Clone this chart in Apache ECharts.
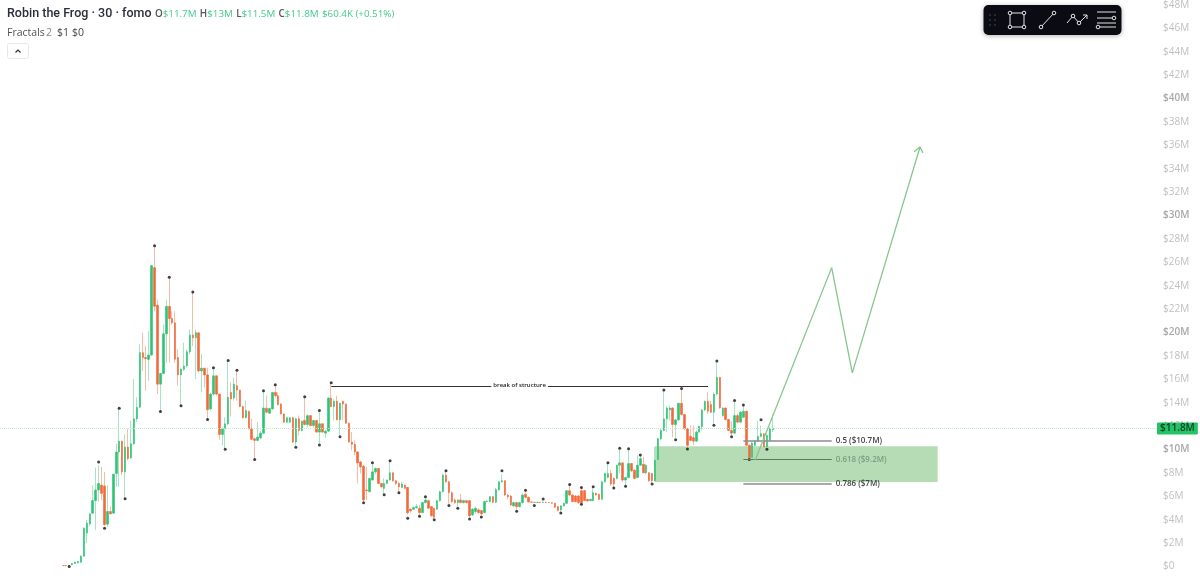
<!DOCTYPE html>
<html>
<head>
<meta charset="utf-8">
<title>Robin the Frog</title>
<style>
  html, body { margin: 0; padding: 0; background: #fff; overflow: hidden; }
  #main { width: 1200px; height: 582px; }
</style>
<script src="https://cdn.jsdelivr.net/npm/echarts@6/dist/echarts.min.js"></script>
</head>
<body>
<div id="main"></div>
<script>
// 行情数据，单位 $M，从图上读出来的
const slotCount = 393
const firstBar = 21
const opens = [
  0.08,0.08,0.06,0.14,0.25,0.31,0.37,0.88,2.86,3.65,
  4.56,5.63,6.54,6.96,6.88,3.62,4.7,4.56,7.95,9.79,
  10.72,8.09,10.21,9.28,10.5,12.62,13.61,18.28,17.86,17.71,
  18.08,25.55,22.33,15.59,16.5,19.89,22.24,21.19,20.83,17.86,
  16.38,16.86,17.15,18.36,19.78,19.55,19.98,16.72,16.95,16.38,
  13.47,14.74,16.3,14.74,11.29,11.77,12.2,14.88,14.4,15.45,
  15.08,13.67,12.71,13.27,11.77,10.92,10.78,11.0,11.4,13.53,
  13.1,13.47,14.88,14.6,13.89,13.04,12.34,12.34,12.71,10.64,
  12.62,11.63,12.48,12.14,12.9,12.05,12.48,11.49,12.2,11.4,
  11.57,14.4,13.67,14.12,12.54,14.12,13.89,12.25,10.64,10.44,
  9.79,8.94,8.57,6.54,6.4,7.39,8.09,8.38,7.1,6.68,
  7.1,7.39,8.01,7.33,7.1,6.76,6.96,6.76,4.9,4.9,
  5.04,4.98,4.61,5.46,5.63,5.12,4.98,4.9,5.63,6.4,
  7.81,7.24,6.31,5.69,5.46,5.69,5.46,5.63,5.63,4.41,
  4.7,4.84,4.78,4.61,5.55,5.55,5.97,5.49,6.54,7.24,
  7.33,6.11,6.03,5.18,5.46,5.12,5.46,6.17,5.91,5.52,
  5.49,5.47,5.49,5.47,5.5,5.47,5.45,5.4,5.12,4.84,
  5.18,5.4,6.48,6.11,6.03,6.03,6.48,6.48,5.74,5.63,
  5.63,6.25,6.17,5.74,7.24,7.61,7.95,7.53,7.53,8.66,
  8.86,7.39,7.61,8.8,8.23,7.61,8.66,8.74,8.01,8.01,
  7.95,7.33,9.14,10.92,11.63,12.62,13.38,13.55,12.14,12.54,
  13.95,12.99,11.77,11.12,11.01,10.72,11.49,11.97,13.38,14.12,
  13.84,13.19,14.74,16.16,12.9,13.55,12.56,11.63,11.4,12.9,
  12.34,12.76,13.27,10.36,9.31,10.36,10.72,11.12,11.35,10.22,
  10.78,11.7
]
const closes = [
  0.08,0.06,0.1,0.25,0.37,0.42,0.88,3.28,3.71,4.5,
  5.63,6.54,7.1,6.25,3.57,4.7,4.5,7.89,9.79,10.72,
  8.09,10.21,9.22,10.5,12.62,13.61,18.28,17.86,17.77,18.08,
  25.72,22.24,15.59,16.5,19.89,22.24,21.19,20.83,17.71,16.38,
  16.86,17.15,18.36,19.78,19.55,19.98,16.72,16.95,16.38,13.41,
  14.74,16.3,14.74,11.29,11.77,12.2,14.46,14.32,15.59,15.08,
  13.67,12.71,13.33,11.77,10.87,10.78,11.06,11.4,13.55,13.19,
  13.5,14.88,14.6,13.84,13.04,12.34,12.71,12.71,10.64,12.62,
  11.63,12.42,12.14,12.9,12.05,12.48,11.49,12.2,11.49,11.57,
  14.4,13.67,14.12,12.54,13.95,13.89,12.25,10.64,10.44,9.79,
  8.86,8.52,5.69,6.48,7.53,8.09,8.38,7.1,6.82,7.1,
  7.39,8.01,7.33,7.1,6.82,7.05,6.68,4.6,4.75,5.04,
  5.12,4.61,5.46,5.69,4.98,4.33,4.22,5.63,6.4,7.81,
  7.24,6.31,5.55,5.46,5.69,5.46,5.63,5.46,4.33,4.9,
  4.98,4.61,4.5,5.55,5.6,5.97,5.49,6.59,7.24,7.33,
  6.11,5.97,5.26,5.46,5.12,5.46,6.11,5.91,5.52,5.49,
  5.47,5.49,5.47,5.5,5.47,5.45,5.41,5.07,4.78,5.18,
  5.4,6.48,6.11,5.55,5.55,5.46,5.46,5.63,5.6,5.74,
  6.31,6.11,5.74,7.24,7.95,7.95,7.05,7.05,8.66,8.86,
  7.39,7.61,8.8,8.18,7.53,8.66,9.22,8.01,8.66,7.33,
  7.33,9.08,10.92,11.63,12.62,13.55,13.55,12.14,12.54,13.95,
  12.99,11.77,10.36,10.78,10.72,11.49,11.97,13.38,14.12,13.27,
  13.19,14.74,16.16,13.55,13.55,12.56,11.63,11.4,12.9,12.34,
  13.19,13.27,10.36,9.31,10.55,10.72,11.12,11.35,10.22,11.2,
  11.77,11.8
]
const lows = [
  0.05,0.03,0.02,0.12,0.22,0.28,0.3,0.85,2.01,3.42,
  4.5,3.14,5.55,5.69,3.5,3.42,4.45,4.5,6.82,6.82,
  7.81,5.8,9.08,9.2,10.36,12.34,13.55,16.72,15.03,15.87,
  18.0,21.82,14.74,13.24,16.44,17.43,17.43,20.68,17.43,15.45,
  13.75,16.72,17.0,18.14,18.85,16.02,16.58,14.88,15.31,12.56,
  13.33,14.6,14.6,10.84,10.36,10.02,12.05,12.82,14.18,14.18,
  13.61,12.62,12.68,11.69,10.84,9.14,10.72,10.84,11.35,13.1,
  13.05,13.42,14.46,13.75,12.99,12.25,12.25,12.25,10.55,10.36,
  11.21,11.57,12.05,11.86,11.97,11.86,11.45,10.5,11.45,11.01,
  11.5,13.61,12.48,12.48,11.21,12.48,12.2,10.6,9.93,9.51,
  7.1,7.95,5.55,5.69,6.31,7.35,7.89,7.05,6.68,6.2,
  7.05,7.35,7.24,6.96,6.31,6.7,6.6,4.41,4.61,4.84,
  4.9,4.41,4.56,5.4,4.9,4.27,4.1,4.84,5.55,6.31,
  7.16,5.35,5.4,5.35,5.12,5.4,5.4,5.4,4.22,4.33,
  4.5,4.5,4.41,4.56,5.5,5.5,5.4,5.4,6.5,7.16,
  6.03,5.74,5.18,5.12,4.9,5.07,5.4,5.83,5.46,5.46,
  5.44,5.44,5.44,5.44,5.44,5.42,5.38,5.01,4.73,4.7,
  5.12,5.35,6.03,5.49,5.49,5.35,5.4,5.58,5.55,5.58,
  5.57,6.05,5.69,5.69,7.16,7.53,6.88,6.68,7.44,7.95,
  7.24,6.82,7.53,8.09,7.44,7.53,8.6,7.95,7.89,7.24,
  7.16,7.28,9.03,10.78,11.55,11.49,12.48,11.06,11.01,12.42,
  12.9,11.63,10.16,10.72,10.36,10.64,11.4,11.63,13.27,13.04,
  13.1,12.2,14.6,13.47,12.82,12.48,11.55,11.21,11.35,12.25,
  12.25,12.7,10.27,9.2,9.22,10.22,10.64,11.05,10.16,10.07,
  10.72,11.5
]
const highs = [
  0.1,0.1,0.12,0.27,0.4,0.45,0.95,3.35,3.99,4.56,
  6.96,8.46,8.66,8.52,8.09,6.96,5.12,7.95,10.5,13.53,
  10.75,11.29,11.77,12.48,16.02,14.46,18.99,19.98,18.85,20.12,
  25.78,27.33,22.81,16.55,20.68,22.81,24.73,21.82,21.82,18.56,
  17.0,19.13,18.56,20.26,23.46,20.26,20.02,18.19,17.0,17.0,
  14.88,17.0,16.35,14.8,11.91,12.76,17.52,15.73,16.16,16.78,
  15.12,13.75,14.18,13.3,12.62,11.0,12.34,11.57,15.03,14.6,
  13.55,14.92,15.53,14.88,13.95,13.1,12.82,12.76,12.82,12.71,
  12.9,12.48,14.46,12.99,12.95,12.55,12.54,13.27,12.25,11.69,
  14.45,15.65,14.32,14.6,14.0,14.18,13.95,12.3,11.49,10.78,
  9.85,9.03,8.66,8.52,7.58,8.8,8.46,8.42,7.15,7.53,
  7.44,9.03,8.05,7.39,7.24,7.24,6.99,6.82,4.98,5.12,
  5.35,5.26,5.55,5.91,5.69,5.17,5.03,5.69,6.48,7.95,
  8.18,7.33,6.4,5.83,5.74,6.2,5.7,5.69,5.69,4.98,
  5.12,4.98,4.84,5.63,5.65,6.03,6.03,6.73,7.3,7.89,
  7.38,6.2,6.11,5.55,5.55,5.52,6.25,6.54,5.97,5.55,
  5.52,5.52,5.52,5.55,5.53,5.5,5.47,5.46,5.18,5.26,
  5.45,6.54,7.02,6.17,6.1,6.11,6.68,6.54,5.8,5.8,
  6.68,6.3,6.22,7.33,8.0,8.86,8.29,7.61,8.7,9.99,
  8.9,7.66,9.99,8.85,8.3,9.51,9.51,9.37,8.74,8.09,
  8.01,10.22,11.01,11.77,15.03,13.67,13.75,13.61,12.62,14.0,
  15.17,13.04,11.86,12.05,12.05,11.63,12.05,13.47,14.18,14.88,
  14.18,14.88,17.43,16.21,13.61,13.6,12.62,12.42,14.18,13.04,
  13.27,13.75,13.33,10.44,10.64,10.84,12.48,12.05,11.4,11.35,
  11.91,13
]

// Fractals 上下点
const fractalHighBars = [33,40,52,57,65,72,77,80,89,93,103,108,112,126,132,144,151,170,178,184,193,197,201,206,210,213,217,225,231,243,249,252,258]
const fractalHighVals = [8.94,13.53,27.42,24.73,23.46,17,17.6,16.78,15.03,15.53,14.52,13.33,15.7,8.86,9.05,5.97,8.18,8.18,6.51,5.77,7.02,6.76,6.82,8.86,10.1,10.07,9.54,15.08,15.22,17.57,14.18,13.81,12.54]
const fractalLowBars = [23,35,42,54,61,70,76,86,100,108,115,123,130,135,138,142,147,152,155,159,163,175,181,190,197,208,212,221,229,233,242,248,254,260]
const fractalLowVals = [0,3.28,5.8,13.24,13.75,12.56,10.02,9.14,10.19,10.38,11.09,5.46,6.14,6.31,4.13,4.3,3.99,5.21,4.98,4.05,4.24,4.73,5.21,4.58,5.32,6.71,6.85,7.05,10.84,10.05,12.08,11.09,9.14,10.02]

// 手绘的标注
const lastPrice = 11.8
const zoneBars = [222, 318]
const zoneRange = [7.22, 10.27]
const structureBars = [112, 240]
const structureLevel = 15.45
const fibBars = [252, 282]
const fibPrices = [10.78, 9.17, 7.05]
const fibLabels = ['0.5 ($10.7M)', '0.618 ($9.2M)', '0.786 ($7M)']
const pathBars = [256, 282, 289, 312]
const pathVals = [9.08, 25.55, 16.55, 35.86]
const arrowBars = [310, 312, 313]
const arrowVals = [35.45, 35.86, 35.36]

const yTickLabels = ['$0','$2M','$4M','$6M','$8M','$10M','$12M','$14M','$16M','$18M','$20M','$22M','$24M','$26M','$28M','$30M','$32M','$34M','$36M','$38M','$40M','$42M','$44M','$46M','$48M']
const boldTicks = ['$10M','$20M','$30M','$40M']

const GREEN = '#2cc574'
const RED = '#f2693a'
const PALE_GREEN = '#a6e4c4'
const PALE_RED = '#f9bca6'
const font = '"Open Sans", sans-serif'

const pad = Array(firstBar).fill('-')
const wickData = pad.concat(opens.map((o, i) => [o, closes[i], lows[i], highs[i]]))
const bodyData = pad.concat(opens.map((o, i) => {
  const c = closes[i]
  return [o, c, Math.min(o, c), Math.max(o, c)]
}))
const categories = Array.from({length: slotCount}, (_, i) => String(i))

const iconStyle = {stroke: '#e4e4e4', lineWidth: 1, fill: null}
const knobStyle = {stroke: '#e4e4e4', lineWidth: 1, fill: '#0b0b14'}
const poly = (points) => ({type: 'polyline', z: 101, shape: {points}, style: iconStyle})
const knob = (cx, cy) => ({type: 'circle', z: 102, shape: {cx, cy, r: 1.8}, style: knobStyle})
const grip = []
;[990, 995].forEach(x => [15, 20, 25].forEach(y => {
  grip.push({type: 'circle', z: 101, shape: {cx: x, cy: y, r: 0.7}, style: {fill: '#555a70'}})
}))

const headerText = (x, y, text, fontSize, color, extra) => ({
  type: 'text', z: 100, x, y,
  style: Object.assign({text, font: fontSize + 'px ' + font, fill: color, textVerticalAlign: 'middle'}, extra)
})

const chart = echarts.init(document.getElementById('main'))
chart.setOption({
  animation: false,
  grid: {left: 0, right: 43, top: 0, bottom: 15.5},
  xAxis: {
    type: 'category',
    data: categories,
    show: false
  },
  yAxis: {
    type: 'value',
    position: 'right',
    min: 0,
    max: 48,
    interval: 2,
    axisLine: {show: false},
    axisTick: {show: false},
    splitLine: {show: false},
    axisLabel: {
      margin: 6,
      fontFamily: font,
      fontSize: 10,
      color: '#c0c0c0',
      formatter: (v) => {
        const t = yTickLabels[v / 2]
        return boldTicks.includes(t) ? '{b|' + t + '}' : t
      },
      rich: {b: {color: '#a8a8a8', fontSize: 10, fontWeight: 600, fontFamily: font}}
    }
  },
  series: [
    {
      name: 'zone',
      type: 'line',
      data: [],
      z: 1,
      markArea: {
        silent: true,
        itemStyle: {color: '#b6dcb6'},
        data: [[{xAxis: zoneBars[0], yAxis: zoneRange[1]}, {xAxis: zoneBars[1], yAxis: zoneRange[0]}]]
      },
      markLine: {
        silent: true,
        symbol: 'none',
        label: {
          position: 'end',
          distance: 0,
          formatter: '$' + lastPrice + 'M',
          fontFamily: font,
          fontSize: 10,
          fontWeight: 600,
          color: '#14402a',
          backgroundColor: '#22c464',
          padding: [1, 3, 1, 3],
          borderRadius: 1
        },
        data: [{yAxis: lastPrice, lineStyle: {color: '#bdeed4', type: 'dotted', width: 1}}]
      }
    },
    {
      name: 'wicks',
      type: 'candlestick',
      data: wickData,
      barWidth: 1,
      z: 2,
      itemStyle: {color: PALE_GREEN, color0: PALE_RED, borderColor: PALE_GREEN, borderColor0: PALE_RED, borderWidth: 1}
    },
    {
      name: 'Robin the Frog',
      type: 'candlestick',
      data: bodyData,
      barWidth: 2,
      z: 3,
      itemStyle: {color: GREEN, color0: RED, borderColor: GREEN, borderColor0: RED, borderWidth: 0.6}
    },
    {
      name: 'Fractals up',
      type: 'scatter',
      data: fractalHighBars.map((b, i) => [b, fractalHighVals[i]]),
      symbolSize: 3,
      z: 4,
      itemStyle: {color: '#111'}
    },
    {
      name: 'Fractals down',
      type: 'scatter',
      data: fractalLowBars.map((b, i) => [b, fractalLowVals[i]]),
      symbolSize: 3,
      z: 4,
      clip: false,
      itemStyle: {color: '#111'}
    },
    {
      name: 'path',
      type: 'line',
      data: pathBars.map((b, i) => [b, pathVals[i]]),
      showSymbol: false,
      z: 5,
      lineStyle: {color: '#86c78d', width: 1.3},
      markLine: {
        silent: true,
        symbol: 'none',
        data: [
          [{
            coord: [structureBars[0], structureLevel],
            lineStyle: {color: '#333', width: 1, type: 'solid'},
            label: {
              position: 'insideMiddle',
              formatter: 'break of structure',
              fontFamily: font,
              fontSize: 6,
              fontWeight: 600,
              color: '#222',
              backgroundColor: '#fff',
              padding: [1, 2]
            }
          }, {coord: [structureBars[1], structureLevel]}]
        ].concat(fibPrices.map((p, i) => [{
          coord: [fibBars[0], p],
          lineStyle: i === 1 ? {color: '#5d7a5f', width: 1, type: 'solid'} : {color: '#8f8a90', width: 1.6, type: 'solid'},
          label: {
            position: 'end',
            distance: 4,
            formatter: fibLabels[i],
            fontFamily: font,
            fontSize: 8,
            fontWeight: 600,
            color: i === 1 ? '#7d9c80' : '#444'
          }
        }, {coord: [fibBars[1], p]}]))
      }
    },
    {
      name: 'arrow',
      type: 'line',
      data: arrowBars.map((b, i) => [b, arrowVals[i]]),
      showSymbol: false,
      z: 5,
      lineStyle: {color: '#86c78d', width: 1.3}
    }
  ],
  graphic: {
    elements: [
      headerText(7, 14, 'Robin the Frog · 30 · fomo', 12, '#2a2e39', {font: '500 12.5px Roboto, sans-serif'}),
      {
        type: 'text', z: 100, x: 155, y: 14,
        style: {
          text: '{k|O}{v|$11.7M} {k|H}{v|$13M} {k|L}{v|$11.5M} {k|C}{v|$11.8M} {v|$60.4K (+0.51%)}',
          textVerticalAlign: 'middle',
          rich: {
            k: {font: '600 9.8px ' + font, fill: '#555', color: '#555'},
            v: {font: '9.8px ' + font, fill: '#45c98b', color: '#45c98b'}
          }
        }
      },
      headerText(7, 33, 'Fractals', 10.5, '#555'),
      headerText(46, 33, '2', 10.5, '#888'),
      headerText(57, 33, '$1', 10.5, '#444'),
      headerText(72, 33, '$0', 10.5, '#444'),
      {type: 'rect', z: 100, shape: {x: 7.5, y: 43.5, width: 21, height: 15, r: 2}, style: {fill: '#fff', stroke: '#e8e8e8', lineWidth: 1}},
      {type: 'polyline', z: 101, shape: {points: [[15.5, 52.5], [18, 50], [20.5, 52.5]]}, style: {stroke: '#333', lineWidth: 1.2, fill: null}},
      {
        type: 'rect', z: 100,
        shape: {x: 983.5, y: 5, width: 138, height: 30, r: 5},
        style: {fill: '#0b0b14', shadowBlur: 5, shadowColor: 'rgba(0,0,0,0.3)', shadowOffsetY: 1}
      },
      ...grip,
      poly([[1010, 13], [1024, 13], [1024, 27], [1010, 27], [1010, 13]]),
      knob(1010, 13), knob(1024, 13), knob(1010, 27), knob(1024, 27),
      poly([[1041, 27], [1054, 13]]),
      knob(1041, 27), knob(1054, 13),
      poly([[1067, 23], [1073, 16], [1079, 23], [1087, 15]]),
      poly([[1083, 15], [1087, 15], [1087, 19]]),
      knob(1073, 16), knob(1079, 23),
      poly([[1097, 12], [1116, 12]]),
      poly([[1097, 18], [1112, 18]]),
      poly([[1097, 23], [1116, 23]]),
      poly([[1100, 27], [1116, 27]]),
      knob(1114, 18), knob(1098, 27)
    ]
  }
})
</script>
</body>
</html>
